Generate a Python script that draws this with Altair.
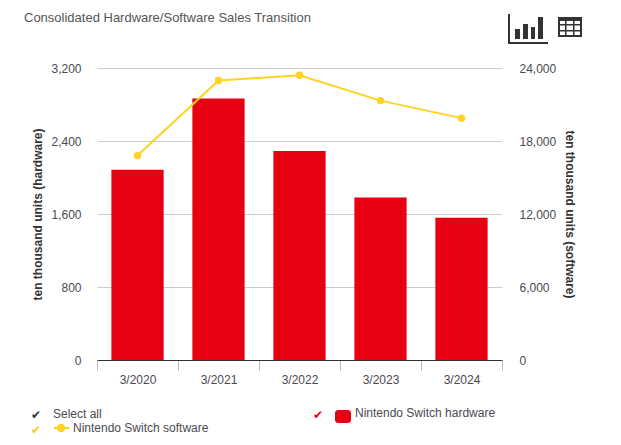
import altair as alt
import pandas as pd

years = ["3/2020", "3/2021", "3/2022", "3/2023", "3/2024"]
hardware = [2085, 2865, 2290, 1780, 1560]
software = [16800, 22980, 23400, 21320, 19880]
hw_ticks = [0, 800, 1600, 2400, 3200]
sw_ticks = [0, 6000, 12000, 18000, 24000]

TITLE = "Consolidated Hardware/Software Sales Transition"
HW_AXIS = "ten thousand units (hardware)"
SW_AXIS = "ten thousand units (software)"
SELECT_ALL = "Select all"
HW_NAME = "Nintendo Switch hardware"
SW_NAME = "Nintendo Switch software"

RED = "#e60012"
YELLOW = "#ffd321"
DARK = "#333333"
TEXT = "#4a4a4f"
FONT = "Liberation Sans"

# plot-area origin inside the page
OX, OY = 97, 68
W, H = 405, 292

df = pd.DataFrame({"year": years, "hardware": hardware, "software": software})
base = alt.Chart(df)

x = alt.X(
    "year:N",
    title=None,
    sort=years,
    scale=alt.Scale(paddingInner=0, paddingOuter=0),
    axis=alt.Axis(
        labelAngle=0, labelFont=FONT, labelFontSize=12, labelColor=TEXT,
        labelPadding=4, domainColor=DARK, domainWidth=1.2,
        tickColor="#bbbbbb", tickSize=10, tickBand="extent", grid=False,
    ),
)

bars = base.mark_bar(color=RED, width=alt.RelativeBandSize(band=0.645)).encode(
    x=x,
    y=alt.Y(
        "hardware:Q",
        title=HW_AXIS,
        scale=alt.Scale(domain=[0, 3200], nice=False),
        axis=alt.Axis(
            values=hw_ticks, format=",.0f", orient="left", domain=False, ticks=False,
            labelFont=FONT, labelFontSize=12, labelColor=TEXT, labelPadding=16,
            grid=True, gridColor="#cccccc", gridWidth=1,
            titleFont=FONT, titleFontSize=12, titleFontWeight="bold", titleColor=DARK,
            titlePadding=6,
        ),
    ),
)

line = base.mark_line(
    color=YELLOW, strokeWidth=2,
    point=alt.OverlayMarkDef(color=YELLOW, size=55, filled=True, opacity=1),
).encode(
    x=alt.X("year:N", sort=years),
    y=alt.Y(
        "software:Q",
        title=SW_AXIS,
        scale=alt.Scale(domain=[0, 24000], nice=False),
        axis=alt.Axis(
            values=sw_ticks, format=",.0f", orient="right", domain=False, ticks=False,
            labelFont=FONT, labelFontSize=12, labelColor=TEXT, labelPadding=17,
            grid=False,
            titleFont=FONT, titleFontSize=12, titleFontWeight="bold", titleColor=DARK,
            titlePadding=7,
        ),
    ),
)


def text(label, px, py, size=12, color=TEXT, font=FONT):
    return alt.Chart(pd.DataFrame({"t": [label]})).mark_text(
        align="left", baseline="middle", font=font, fontSize=size, color=color
    ).encode(text="t:N", x=alt.value(px - OX), y=alt.value(py - OY))


def box(x0, y0, x1, y1, color=DARK, radius=0):
    return alt.Chart(pd.DataFrame({"k": [0]})).mark_rect(
        color=color, cornerRadius=radius
    ).encode(
        x=alt.value(x0 - OX), x2=alt.value(x1 - OX),
        y=alt.value(y0 - OY), y2=alt.value(y1 - OY),
    )


def seg(x0, y0, x1, y1, color, width):
    return alt.Chart(pd.DataFrame({"k": [0]})).mark_rule(
        color=color, strokeWidth=width
    ).encode(
        x=alt.value(x0 - OX), x2=alt.value(x1 - OX),
        y=alt.value(y0 - OY), y2=alt.value(y1 - OY),
    )


def dot(px, py, color):
    return alt.Chart(pd.DataFrame({"k": [0]})).mark_point(
        color=color, filled=True, size=70, opacity=1
    ).encode(x=alt.value(px - OX), y=alt.value(py - OY))


decor = [
    text(TITLE, 24, 18, 13, "#555555"),
    # chart icon
    box(508, 14, 510, 44), box(508, 42, 548, 44),
    box(515, 29, 520, 39), box(523, 24, 528, 39),
    box(531, 27, 535, 39), box(538, 17, 543, 39),
    # table icon
    box(558, 17, 582, 21, radius=1),
    box(558, 17, 560, 37), box(580, 17, 582, 37), box(558, 35, 582, 37),
    box(558, 24, 582, 25.5), box(558, 30, 582, 31.5),
    box(565, 17, 566.5, 37), box(573, 17, 574.5, 37),
    # legend
    text("\u2714", 31, 415, 12, DARK, "DejaVu Sans"),
    text(SELECT_ALL, 53, 414),
    text("\u2714", 31, 430, 12, "#ffc81e", "DejaVu Sans"),
    seg(54, 428, 69, 428, YELLOW, 2),
    dot(61, 428, YELLOW),
    text(SW_NAME, 73, 428),
    text("\u2714", 313, 415, 12, RED, "DejaVu Sans"),
    box(335, 410, 351, 423, RED, 3),
    text(HW_NAME, 355, 413),
]

chart = (
    alt.layer(bars, line, *decor)
    .resolve_scale(y="independent")
    .properties(
        width=W,
        height=H,
        background="white",
        autosize=alt.AutoSizeParams(type="none"),
        padding={"left": OX - 8, "top": OY - 8, "right": 605 - (OX - 8) - W, "bottom": 429 - (OY - 8) - H},
    )
    .configure_view(stroke=None)
)

chart.save("out.html", embed_options={"renderer": "svg", "actions": False})
